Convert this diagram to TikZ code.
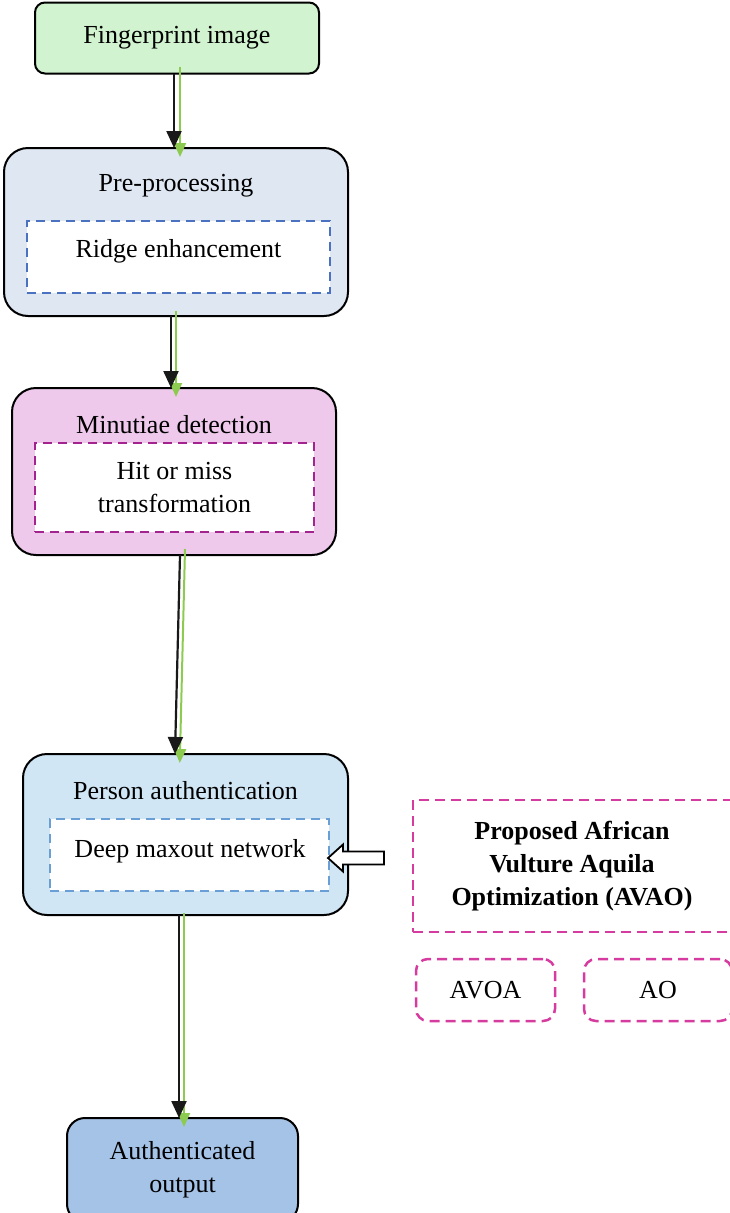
\documentclass[tikz,border=0pt]{standalone}
\usepackage{fontspec}
\setmainfont{Liberation Serif}
\usetikzlibrary{arrows.meta}
\definecolor{fpgreen}{RGB}{210,243,208}
\definecolor{prefill}{RGB}{222,231,242}
\definecolor{preline}{RGB}{74,114,192}
\definecolor{minufill}{RGB}{239,201,236}
\definecolor{minuline}{RGB}{163,35,143}
\definecolor{authfill}{RGB}{209,230,245}
\definecolor{authline}{RGB}{106,159,213}
\definecolor{outfill}{RGB}{165,195,230}
\definecolor{optline}{RGB}{214,60,159}
\definecolor{arrgreen}{RGB}{140,203,80}
\begin{document}
\begin{tikzpicture}[x=1pt,y=-1pt,inner sep=0pt,outer sep=0pt,
font=\fontsize{26}{33}\selectfont,
stage/.style={draw,rectangle,rounded corners=24pt,line width=2pt},
inbox/.style={draw,rectangle,fill=white,line width=2.5pt,dash pattern=on 9pt off 6pt,align=center},
optbox/.style={draw=optline,rectangle,line width=2.5pt,dash pattern=on 10pt off 6pt,align=center},
flow/.style={->,>={Triangle[length=17pt,width=15pt]},line width=2.2pt,black!90},
gflow/.style={->,>={Triangle[length=14pt,width=12pt]},line width=2pt,arrgreen,shorten >=-9pt}]
\useasboundingbox (0,0) rectangle (730,1213);
% stages
\draw (177,38) node[stage,rounded corners=10pt,fill=fpgreen,minimum width=284,minimum height=71] (fp) {Fingerprint image};
\draw (176,232) node[stage,fill=prefill,minimum width=344,minimum height=168] (pre) {};
\draw (176,186) node (pretitle) {Pre-processing};
\draw (178.5,257) node[inbox,draw=preline,minimum width=303,minimum height=72] (ridge) {};
\draw (178.5,251) node (ridgetext) {Ridge enhancement};
\draw (174,471.5) node[stage,fill=minufill,minimum width=324,minimum height=167] (minu) {};
\draw (174,425) node (minutitle) {Minutiae detection};
\draw (174.5,487.5) node[inbox,draw=minuline,minimum width=279,minimum height=89] (hit) {Hit or miss\\transformation};
\draw (185.5,834.5) node[stage,fill=authfill,minimum width=325,minimum height=161] (auth) {};
\draw (185.5,791) node (authtitle) {Person authentication};
\draw (189.5,855) node[inbox,draw=authline,minimum width=279,minimum height=72] (maxout) {};
\draw (190,851) node (maxouttext) {Deep maxout network};
\draw (182.5,1170) node[stage,rounded corners=18pt,fill=outfill,minimum width=231,minimum height=104,align=center] (out) {Authenticated\\output};
% optimizer
\draw (572,866) node[optbox,minimum width=318,minimum height=132,font=\fontsize{26}{33}\selectfont\bfseries] (avao) {Proposed African\\Vulture Aquila\\Optimization (AVAO)};
\draw (485.5,990) node[optbox,rounded corners=12pt,minimum width=139,minimum height=62] (avoa) {AVOA};
\draw (658,990) node[optbox,rounded corners=12pt,minimum width=148,minimum height=62] (ao) {AO};
\draw[line width=1.8pt,fill=white] ([shift={(-29,-8)}]avao.west) ++(0,-6.5) -- ++(-41,0) -- ++(0,-7)
  -- ++(-15,13.5) -- ++(15,13.5) -- ++(0,-7) -- ++(41,0) -- cycle;
% arrows
\draw[gflow] ([shift={(3,-7)}]fp.south) -- ([xshift=4pt]pre.north);
\draw[flow] ([xshift=-3pt]fp.south) -- ([xshift=-2pt]pre.north);
\draw[gflow] ([shift={(0,-5)}]pre.south) -- ([xshift=2pt]minu.north);
\draw[flow] ([xshift=-5pt]pre.south) -- ([xshift=-3pt]minu.north);
\draw[gflow] ([shift={(11,-6)}]minu.south) -- ([xshift=-5.5pt]auth.north);
\draw[flow] ([xshift=6pt]minu.south) -- ([xshift=-10.5pt]auth.north);
\draw[gflow] ([shift={(-1.5,-2)}]auth.south) -- ([xshift=1.5pt]out.north);
\draw[flow] ([xshift=-6.5pt]auth.south) -- ([xshift=-3.5pt]out.north);
\end{tikzpicture}
\end{document}
